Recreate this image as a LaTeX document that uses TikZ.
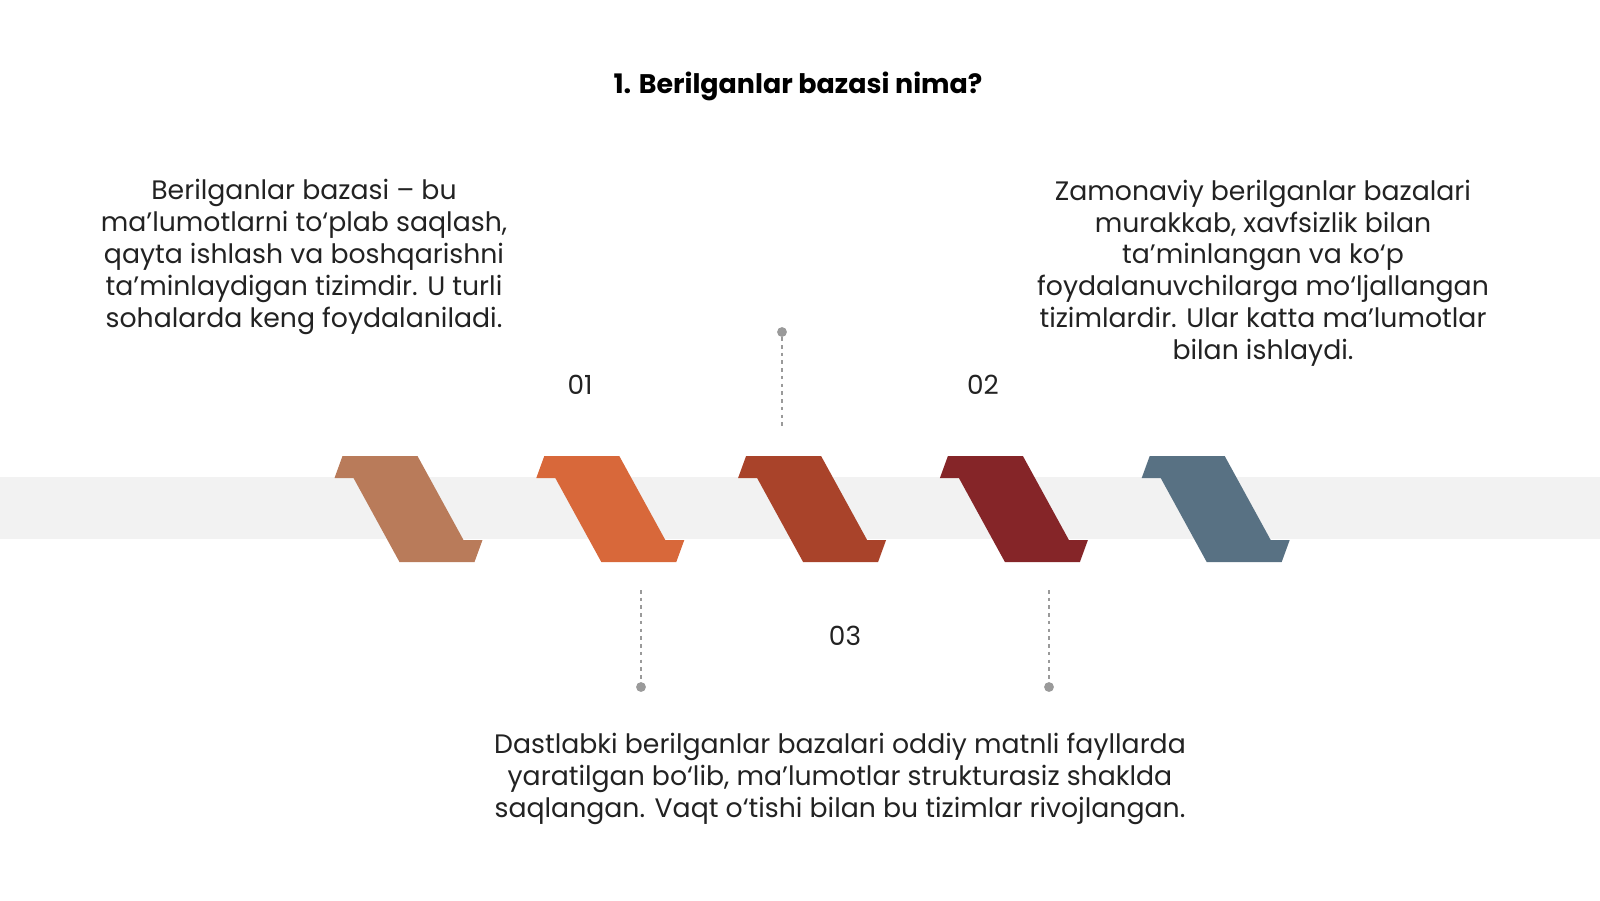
\documentclass[tikz,border=0pt]{standalone}
\usepackage{fontspec}
\setmainfont{Poppins}
\usepackage{tikz}
\definecolor{StepTan}{HTML}{B97B5A}
\definecolor{StepOrange}{HTML}{D8683A}
\definecolor{StepRust}{HTML}{A9432A}
\definecolor{StepWine}{HTML}{852528}
\definecolor{StepSlate}{HTML}{587183}
\definecolor{BandGray}{HTML}{F2F2F2}
\definecolor{DotGray}{HTML}{9A9A9A}
\definecolor{NiceBlack}{HTML}{222222}
\tikzset{
  bodytext/.style={font=\fontsize{15.2pt}{18.1pt}\selectfont, align=center, text=NiceBlack, inner sep=0pt},
  steplabel/.style={font=\fontsize{15pt}{18pt}\selectfont, text=NiceBlack, inner sep=0pt},
  dotend/.style={circle, fill=DotGray, minimum size=5.6pt, inner sep=0pt},
  dotline/.style={DotGray, line width=0.8pt, dash pattern=on 2pt off 2.4pt}
}

\begin{document}
\begin{tikzpicture}[x=0.02cm, y=-0.02cm]
    \useasboundingbox (0,0) rectangle (1600,900);
    % Band
    \fill[BandGray] (0,477) rectangle (1600,539);
    % Steps
    \foreach \cx/\col in {408.5/StepTan, 610.3/StepOrange, 812.1/StepRust,
      1013.9/StepWine, 1215.7/StepSlate}
      \fill[\col] ({\cx-66},456) -- ++(75,0) -- ++(46,84) -- ++(19,0)
      -- ++(-8,22) -- ++(-75,0) -- ++(-46,-84) -- ++(-19,0) -- cycle;
    % Title
    \node[font=\fontsize{15.3pt}{19pt}\selectfont\bfseries, inner sep=0pt]
      (title) at (798,86) {1. Berilganlar bazasi nima?};
    % Texts
    \node[bodytext] (textleft) at (304,257) {Berilganlar bazasi – bu\\
      ma’lumotlarni to‘plab saqlash,\\ qayta ishlash va boshqarishni\\
      ta’minlaydigan tizimdir. U turli\\ sohalarda keng foydalaniladi.};
    \node[bodytext] (textright) at (1263,273) {Zamonaviy berilganlar bazalari\\
      murakkab, xavfsizlik bilan\\ ta’minlangan va ko‘p\\
      foydalanuvchilarga mo‘ljallangan\\ tizimlardir. Ular katta ma’lumotlar\\
      bilan ishlaydi.};
    \node[bodytext] (textbottom) at (840,779) {Dastlabki berilganlar bazalari
      oddiy matnli fayllarda\\ yaratilgan bo‘lib, ma’lumotlar strukturasiz
      shaklda\\ saqlangan. Vaqt o‘tishi bilan bu tizimlar rivojlangan.};
    % Labels
    \node[steplabel] (labelone) at (580,385) {01};
    \node[steplabel] (labeltwo) at (983,385) {02};
    \node[steplabel] (labelthree) at (845,636) {03};
    % Pointers
    \node[dotend] (dottop) at (782,332) {};
    \coordinate (endtop) at (782,428);
    \draw[dotline] (dottop) -- (endtop);
    \node[dotend] (dotleft) at (641,687) {};
    \coordinate (endleft) at (641,590);
    \draw[dotline] (endleft) -- (dotleft);
    \node[dotend] (dotright) at (1049,687) {};
    \coordinate (endright) at (1049,590);
    \draw[dotline] (endright) -- (dotright);
\end{tikzpicture}
\end{document}
